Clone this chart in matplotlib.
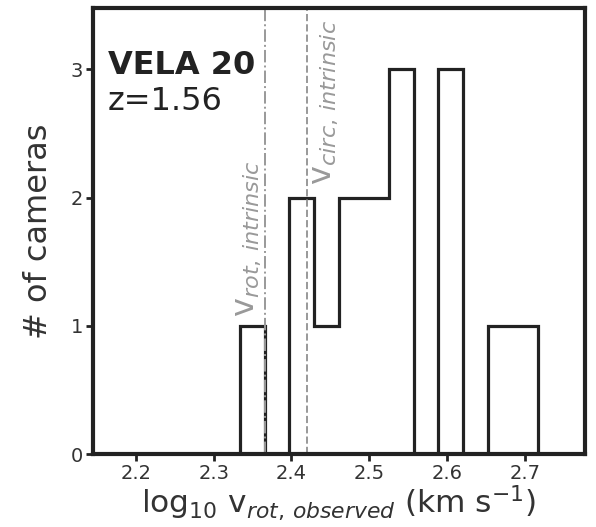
import matplotlib
matplotlib.use("Agg")
import matplotlib.pyplot as plt

# histogram of observed rotation velocity (log10, km/s)
bin_edges = [2.3335, 2.3654, 2.3973, 2.4292, 2.4611, 2.4930, 2.5249,
             2.5568, 2.5887, 2.6206, 2.6525, 2.6844, 2.7164]
counts = [1, 0, 2, 1, 2, 2, 3, 0, 3, 0, 1, 1]

v_rot_intrinsic = 2.366
v_circ_intrinsic = 2.4205

x_ticks = [2.2, 2.3, 2.4, 2.5, 2.6, 2.7]
y_ticks = [0, 1, 2, 3]

dark = "#222222"
grey = "#999999"

fig = plt.figure(figsize=(5.96, 5.27), dpi=100)
ax = fig.add_axes([0.156, 0.1385, 0.8255, 0.8465])

ax.stairs(counts, bin_edges, color=dark, lw=2.3)

ax.axvline(v_rot_intrinsic, color=grey, ls="-.", lw=1.4)
ax.axvline(v_circ_intrinsic, color=grey, ls="--", lw=1.4)

ax.text(v_rot_intrinsic - 0.002, 1.07, r"v$_{rot,\, intrinsic}$", rotation=90,
        color=grey, fontsize=23, ha="right", va="bottom")
ax.text(v_circ_intrinsic + 0.002, 2.1, r"v$_{circ,\, intrinsic}$", rotation=90,
        color=grey, fontsize=23, ha="left", va="bottom")

ax.text(0.03, 0.852, "VELA 20", transform=ax.transAxes, fontsize=23,
        fontweight="bold", color=dark, va="baseline")
ax.text(0.03, 0.771, "z=1.56", transform=ax.transAxes, fontsize=23,
        color=dark, va="baseline")

ax.set_xlim(2.145, 2.777)
ax.set_ylim(0, 3.48)
ax.set_xticks(x_ticks)
ax.set_yticks(y_ticks)
ax.tick_params(axis="both", labelsize=14, length=5, width=2, pad=2,
               color=dark, labelcolor="#333333")

for s in ax.spines.values():
    s.set_linewidth(3)
    s.set_color(dark)

ax.set_xlabel(r"log$_{10}$ v$_{rot,\, observed}$ (km s$^{-1}$)",
              fontsize=22.5, color="#333333", labelpad=0)
ax.set_ylabel("# of cameras", fontsize=23, color="#333333", labelpad=12)

fig.savefig("out.png", dpi=100)
